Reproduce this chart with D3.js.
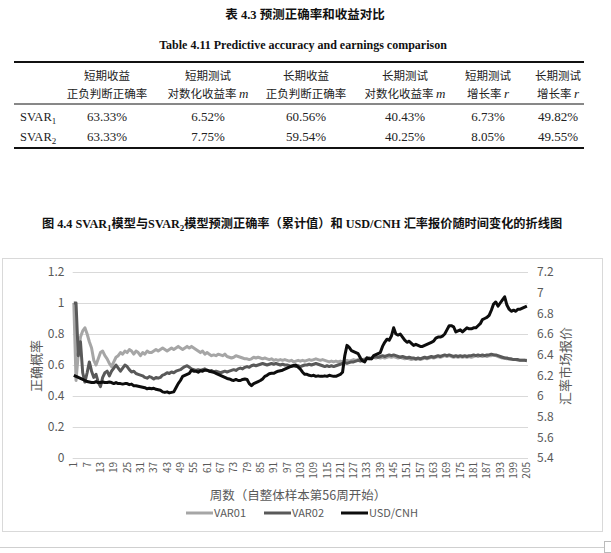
<!DOCTYPE html>
<html><head><meta charset="utf-8">
<script src="https://cdn.jsdelivr.net/npm/d3@7"></script>
<style>body{margin:0;background:#fff}</style>
</head><body><svg id="c" width="611" height="553"></svg>
<script>
// ---------- DATA ----------
const tableTitle = "表 4.3  预测正确率和收益对比";
const tableTitleEn = "Table 4.11 Predictive accuracy and earnings comparison";
const headLine1 = ["短期收益","短期测试","长期收益","长期测试","短期测试","长期测试"];
const headLine2 = [["正负判断正确率",""],["对数化收益率 ","m"],["正负判断正确率",""],["对数化收益率 ","m"],["增长率 ","r"],["增长率 ","r"]];
const rowNames = [["SVAR","1"],["SVAR","2"]];
const svar1Row = ["63.33%","6.52%","60.56%","40.43%","6.73%","49.82%"];
const svar2Row = ["63.33%","7.75%","59.54%","40.25%","8.05%","49.55%"];

const chartTitleParts = [["图 4.4  SVAR",""],["1","sub"],["模型与SVAR",""],["2","sub"],["模型预测正确率（累计值）和 USD/CNH 汇率报价随时间变化的折线图",""]];
const weeks = d3.range(1, 206);
const seriesNames = ["VAR01","VAR02","USD/CNH"];
const var01 = [
1.0,0.50,0.67,0.78,0.82,0.84,0.80,0.75,0.71,0.63,
0.60,0.64,0.68,0.69,0.66,0.64,0.61,0.59,0.62,0.65,
0.66,0.68,0.67,0.69,0.68,0.70,0.69,0.67,0.69,0.68,
0.66,0.68,0.67,0.69,0.68,0.68,0.69,0.70,0.69,0.70,
0.71,0.70,0.69,0.70,0.71,0.70,0.71,0.72,0.71,0.70,
0.71,0.72,0.71,0.72,0.71,0.70,0.69,0.68,0.69,0.67,
0.68,0.67,0.66,0.665,0.66,0.67,0.665,0.66,0.67,0.655,
0.65,0.645,0.65,0.66,0.655,0.65,0.645,0.64,0.64,0.635,
0.64,0.65,0.645,0.65,0.645,0.64,0.645,0.64,0.635,0.64,
0.63,0.635,0.63,0.635,0.63,0.635,0.63,0.625,0.63,0.62,
0.625,0.63,0.625,0.63,0.625,0.63,0.635,0.63,0.635,0.64,
0.635,0.63,0.635,0.63,0.625,0.62,0.625,0.62,0.625,0.62,
0.625,0.62,0.625,0.63,0.625,0.63,0.635,0.63,0.635,0.64,
0.635,0.64,0.645,0.64,0.645,0.65,0.645,0.65,0.645,0.65,
0.645,0.65,0.655,0.65,0.655,0.65,0.645,0.65,0.645,0.64,
0.645,0.64,0.635,0.64,0.635,0.64,0.635,0.64,0.645,0.64,
0.645,0.65,0.645,0.65,0.655,0.65,0.655,0.66,0.655,0.66,
0.655,0.65,0.655,0.65,0.655,0.65,0.655,0.65,0.655,0.65,
0.655,0.66,0.655,0.66,0.655,0.66,0.655,0.66,0.66,0.665,
0.66,0.655,0.65,0.645,0.645,0.64,0.64,0.635,0.635,0.635,
0.63,0.63,0.63,0.63,0.63];
const var02 = [
1.0,1.0,0.66,0.75,0.55,0.49,0.55,0.62,0.56,0.52,
0.54,0.49,0.46,0.52,0.55,0.56,0.53,0.56,0.58,0.60,
0.58,0.56,0.58,0.60,0.59,0.57,0.555,0.56,0.545,0.54,
0.535,0.53,0.52,0.515,0.525,0.52,0.51,0.52,0.515,0.52,
0.535,0.54,0.55,0.545,0.555,0.55,0.56,0.565,0.57,0.58,
0.59,0.595,0.585,0.575,0.57,0.565,0.57,0.565,0.57,0.575,
0.565,0.56,0.565,0.555,0.56,0.555,0.55,0.555,0.56,0.555,
0.56,0.565,0.57,0.565,0.575,0.58,0.575,0.585,0.59,0.585,
0.595,0.60,0.595,0.60,0.605,0.61,0.605,0.60,0.605,0.61,
0.605,0.61,0.605,0.60,0.605,0.60,0.60,0.595,0.59,0.595,
0.59,0.595,0.59,0.595,0.60,0.60,0.605,0.60,0.605,0.61,
0.605,0.60,0.595,0.59,0.595,0.59,0.595,0.59,0.595,0.60,
0.605,0.61,0.615,0.61,0.615,0.62,0.62,0.625,0.63,0.625,
0.63,0.635,0.64,0.645,0.64,0.65,0.655,0.65,0.655,0.66,
0.655,0.66,0.665,0.66,0.665,0.66,0.655,0.65,0.655,0.65,
0.645,0.65,0.645,0.645,0.64,0.645,0.64,0.645,0.65,0.645,
0.65,0.655,0.65,0.655,0.66,0.655,0.66,0.665,0.66,0.665,
0.66,0.655,0.66,0.655,0.66,0.655,0.66,0.655,0.66,0.66,
0.665,0.66,0.665,0.66,0.665,0.66,0.665,0.665,0.67,0.665,
0.665,0.66,0.655,0.65,0.645,0.645,0.64,0.64,0.635,0.635,
0.635,0.63,0.63,0.63,0.628];
const usdcnh = [
6.20,6.19,6.18,6.17,6.16,6.15,6.14,6.135,6.13,6.13,
6.14,6.13,6.13,6.135,6.13,6.13,6.135,6.13,6.12,6.13,
6.12,6.12,6.115,6.12,6.12,6.11,6.115,6.10,6.10,6.095,
6.09,6.085,6.08,6.07,6.075,6.07,6.075,6.065,6.06,6.055,
6.04,6.035,6.04,6.03,6.035,6.04,6.08,6.12,6.15,6.19,
6.20,6.21,6.22,6.25,6.24,6.24,6.23,6.245,6.24,6.25,
6.25,6.24,6.235,6.23,6.22,6.21,6.20,6.19,6.18,6.17,
6.165,6.155,6.15,6.16,6.15,6.15,6.16,6.165,6.16,6.12,
6.10,6.12,6.13,6.14,6.15,6.165,6.19,6.20,6.215,6.22,
6.22,6.23,6.24,6.245,6.25,6.26,6.27,6.28,6.29,6.295,
6.30,6.28,6.26,6.23,6.21,6.21,6.20,6.195,6.20,6.19,
6.195,6.19,6.19,6.195,6.19,6.20,6.195,6.19,6.19,6.20,
6.21,6.23,6.39,6.49,6.47,6.44,6.43,6.42,6.41,6.37,
6.34,6.33,6.37,6.36,6.36,6.39,6.40,6.41,6.42,6.48,
6.52,6.55,6.54,6.58,6.66,6.60,6.59,6.60,6.57,6.54,
6.52,6.53,6.51,6.49,6.50,6.49,6.48,6.48,6.49,6.50,
6.51,6.52,6.53,6.56,6.57,6.57,6.58,6.60,6.64,6.68,
6.68,6.67,6.62,6.63,6.64,6.62,6.64,6.66,6.65,6.65,
6.66,6.66,6.68,6.70,6.74,6.75,6.76,6.78,6.83,6.89,
6.91,6.87,6.90,6.93,6.96,6.88,6.84,6.82,6.83,6.82,
6.84,6.84,6.85,6.86,6.87];
const leftTicks = [0,0.2,0.4,0.6,0.8,1,1.2];
const rightTicks = [5.4,5.6,5.8,6,6.2,6.4,6.6,6.8,7,7.2];
const xTickEvery = 6;
const leftTitle = "正确概率";
const rightTitle = "汇率市场报价";
const xTitle = "周数（自整体样本第56周开始）";

// ---------- DRAW ----------
const svg = d3.select("#c");
svg.append("rect").attr("width",611).attr("height",553).attr("fill","#fff");
const CJK = "'Noto Sans CJK SC', sans-serif";
const SERIF = "'Liberation Serif', 'Noto Sans CJK SC', serif";

// Table
svg.append("text").attr("x",305).attr("y",19).attr("text-anchor","middle")
  .attr("font-family",SERIF).attr("font-weight","bold").attr("font-size",12.5).attr("fill","#111").text(tableTitle);
svg.append("text").attr("x",303).attr("y",49).attr("text-anchor","middle")
  .attr("font-family","'Liberation Serif', serif").attr("font-weight","bold").attr("font-size",12).attr("fill","#111").text(tableTitleEn);
const colX = [107,208,306,405,488,558];
svg.append("line").attr("x1",14).attr("x2",584).attr("y1",62).attr("y2",62).attr("stroke","#111").attr("stroke-width",2);
svg.append("line").attr("x1",14).attr("x2",584).attr("y1",104).attr("y2",104).attr("stroke","#111").attr("stroke-width",1);
svg.append("line").attr("x1",14).attr("x2",584).attr("y1",148).attr("y2",148).attr("stroke","#111").attr("stroke-width",2);
headLine1.forEach((h,i)=>{
  svg.append("text").attr("x",colX[i]).attr("y",80).attr("text-anchor","middle")
   .attr("font-family",CJK).attr("font-size",11.5).attr("fill","#222").text(h);
});
headLine2.forEach((h,i)=>{
  const t = svg.append("text").attr("x",colX[i]).attr("y",98).attr("text-anchor","middle")
   .attr("font-family",CJK).attr("font-size",11.5).attr("fill","#222");
  t.append("tspan").text(h[0]);
  if(h[1]) t.append("tspan").attr("font-family","'Liberation Serif', serif").attr("font-style","italic").attr("font-size",13).text(h[1]);
});
[svar1Row, svar2Row].forEach((row,r)=>{
  const yy = 121 + r*20;
  const nm = svg.append("text").attr("x",20).attr("y",yy).attr("font-family","'Liberation Serif', serif").attr("font-size",12.5).attr("fill","#222");
  nm.append("tspan").text(rowNames[r][0]);
  nm.append("tspan").attr("dy",3).attr("font-size",9).text(rowNames[r][1]);
  row.forEach((v,i)=>{
    svg.append("text").attr("x",colX[i]).attr("y",yy).attr("text-anchor","middle")
      .attr("font-family","'Liberation Serif', serif").attr("font-size",13).attr("fill","#222").text(v);
  });
});

// Chart title
const ct = svg.append("text").attr("x",302).attr("y",231).attr("text-anchor","middle")
  .attr("font-family",SERIF).attr("font-weight","bold").attr("font-size",12.2).attr("fill","#111");
chartTitleParts.forEach(p=>{
  if(p[1]==="sub") ct.append("tspan").attr("dy",3).attr("font-size",9).text(p[0]);
  else ct.append("tspan").attr("dy", ct.selectAll("tspan").size() ? -3 : 0).text(p[0]);
});

// Chart frame
svg.append("rect").attr("x",2.5).attr("y",258.5).attr("width",600).attr("height",273)
  .attr("fill","none").attr("stroke","#d9d9d9").attr("stroke-width",1);
svg.append("line").attr("x1",0).attr("x2",604).attr("y1",547.5).attr("y2",547.5).attr("stroke","#cfcfcf");
svg.append("rect").attr("x",604.5).attr("y",541.5).attr("width",7).attr("height",11).attr("fill","#fff").attr("stroke","#bbb");

const x = d3.scaleBand().domain(weeks).range([72.7,528]);
const xc = w => x(w) + x.bandwidth()/2;
const yL = d3.scaleLinear().domain([0,1.2]).range([458,272]);
const yR = d3.scaleLinear().domain([5.4,7.2]).range([458,272]);

// gridlines
svg.append("g").selectAll("line").data(leftTicks).join("line")
  .attr("x1",72.7).attr("x2",528).attr("y1",d=>yL(d)+0.5).attr("y2",d=>yL(d)+0.5)
  .attr("stroke","#d9d9d9").attr("stroke-width",1);

// left axis
const gl = svg.append("g").attr("transform","translate(64.5,0)")
  .call(d3.axisLeft(yL).tickValues(leftTicks).tickSize(0).tickPadding(0).tickFormat(d=>String(+d.toFixed(1))));
gl.select(".domain").remove();
gl.selectAll("text").attr("font-family",CJK).attr("font-size",12).attr("fill","#595959");

// right axis
const gr = svg.append("g").attr("transform","translate(537,0)")
  .call(d3.axisRight(yR).tickValues(rightTicks).tickSize(0).tickPadding(0).tickFormat(d=>String(+d.toFixed(1))));
gr.select(".domain").remove();
gr.selectAll("text").attr("font-family",CJK).attr("font-size",12).attr("fill","#595959");

// x axis
const gx = svg.append("g")
  .call(d3.axisBottom(x).tickValues(weeks.filter((w,i)=>i%xTickEvery===0)).tickSize(0).tickPadding(0));
gx.select(".domain").remove();
gx.selectAll("text").attr("font-family",CJK).attr("font-size",10).attr("fill","#595959")
  .attr("text-anchor","end").attr("dy","0.35em").attr("transform","rotate(-90)").attr("x",0).attr("y",0);
gx.selectAll(".tick").attr("transform",d=>`translate(${xc(d)},462)`);

// axis titles
svg.append("text").attr("transform","translate(41,366) rotate(-90)").attr("text-anchor","middle")
  .attr("font-family",CJK).attr("font-size",13).attr("fill","#595959").text(leftTitle);
svg.append("text").attr("transform","translate(570,366) rotate(-90)").attr("text-anchor","middle")
  .attr("font-family",CJK).attr("font-size",13).attr("fill","#595959").text(rightTitle);
svg.append("text").attr("x",298).attr("y",500).attr("text-anchor","middle")
  .attr("font-family",CJK).attr("font-size",12.5).attr("fill","#595959").text(xTitle);

// series
const colors = ["#a6a6a6","#595959","#0d0d0d"];
const lineL = d3.line().x((d,i)=>xc(weeks[i])).y(d=>yL(d));
const lineR = d3.line().x((d,i)=>xc(weeks[i])).y(d=>yR(d));
svg.append("path").datum(var01).attr("d",lineL).attr("fill","none").attr("stroke",colors[0]).attr("stroke-width",3).attr("stroke-linejoin","round");
svg.append("path").datum(var02).attr("d",lineL).attr("fill","none").attr("stroke",colors[1]).attr("stroke-width",3).attr("stroke-linejoin","round");
svg.append("path").datum(usdcnh).attr("d",lineR).attr("fill","none").attr("stroke",colors[2]).attr("stroke-width",3).attr("stroke-linejoin","round");

// legend
const legX = [186,264,341];
seriesNames.forEach((n,i)=>{
  svg.append("line").attr("x1",legX[i]).attr("x2",legX[i]+27).attr("y1",513).attr("y2",513)
    .attr("stroke",colors[i]).attr("stroke-width",3);
  svg.append("text").attr("x",legX[i]+28).attr("y",517).attr("font-family",CJK).attr("font-size",11)
    .attr("fill","#595959").text(n);
});
</script></body></html>
